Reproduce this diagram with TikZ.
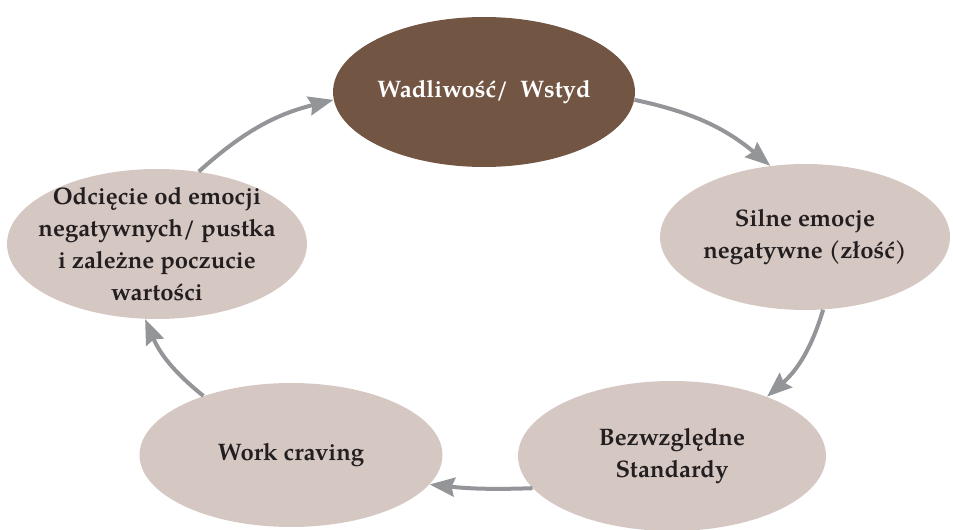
\documentclass[tikz,border=0pt]{standalone}
\usepackage{fontspec}
\setmainfont{TeX Gyre Pagella}
\usetikzlibrary{shapes.geometric,arrows.meta}

\definecolor{wstydbrown}{HTML}{735544}
\definecolor{stagefill}{HTML}{D5C8C3}
\definecolor{arrowgray}{HTML}{939598}
\definecolor{stagetext}{HTML}{231F20}

\begin{document}
\begin{tikzpicture}[
    x=0.02cm, y=0.02cm,
    stage/.style={
        ellipse,
        fill=stagefill,
        text=stagetext,
        inner xsep=-0.35cm,
        inner ysep=-0.2cm,
        align=center,
        font=\fontsize{13.6}{18.2}\selectfont\bfseries
    },
    cyclearrow/.style={
        -{Stealth[length=0.5cm, width=0.38cm, inset=0.06cm]},
        arrowgray,
        line width=0.08cm,
        bend left=#1
    }
]
\useasboundingbox (0,0) rectangle (953,530);

% Etapy
\node[stage, fill=wstydbrown, text=white, minimum width=6.04cm, minimum height=3.0cm] (wstyd) at (484,438) {Wadliwość/\ \ Wstyd};

\node[stage, minimum width=5.8cm, minimum height=2.92cm] (silne) at (805,293) {
    Silne emocje\\
    negatywne (złość)
};

\node[stage, minimum width=6.16cm, minimum height=3.0cm] (standardy) at (672,74) {
    Bezwzględne\\
    Standardy
};

\node[stage, minimum width=6.06cm, minimum height=2.88cm] (craving) at (291,75) {Work craving};

\node[stage, minimum width=6.0cm, minimum height=3.0cm] (odciecie) at (157,286) {
    Odcięcie od emocji\\
    negatywnych/ pustka\\
    i zależne poczucie\\
    wartości
};

% Strzalki cyklu
\draw[cyclearrow=14] (wstyd.-3.5) to (silne.116.6);
\draw[cyclearrow=16] (silne.-76.7) to (standardy.32.3);
\draw[cyclearrow=4] (standardy.193) to (craving.-12.7);
\draw[cyclearrow=14] (craving.146.6) to (odciecie.-99.6);
\draw[cyclearrow=14] (odciecie.60) to (wstyd.183);

\end{tikzpicture}
\end{document}
